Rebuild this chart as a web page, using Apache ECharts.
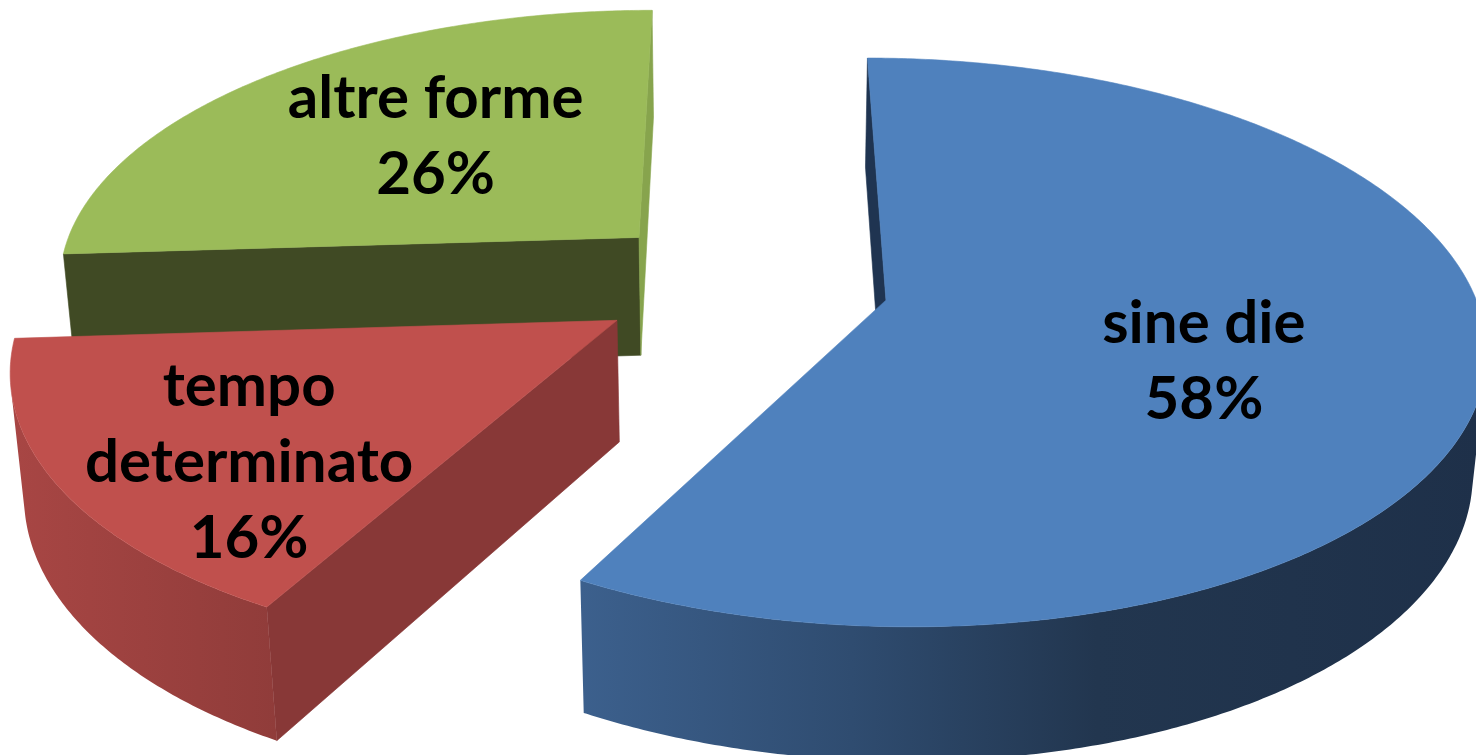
<!DOCTYPE html>
<html>
<head>
<meta charset="utf-8">
<script src="https://cdn.jsdelivr.net/npm/echarts@6/dist/echarts.min.js"></script>
<style>
html,body{margin:0;padding:0;background:#ffffff;}
#chart{width:1476px;height:755px;}
</style>
</head>
<body>
<div id="chart"></div>
<script>
// ---- data ----
const categories = ['sine die', 'tempo determinato', 'altre forme'];
const values = [58, 16, 26];

// ---- styles ----
const topColors = ['#4f81bd', '#c0504d', '#9bbb59'];
const radialStartColors = ['#1f3451', '#883837', '#404a24'];
const radialEndColors = ['#1f3451', '#883837', '#87a44d'];
const sideStops = [
  [[0, '#3c608d'], [0.3, '#2f4c70'], [0.57, '#22364f'], [1, '#1e3049']],
  [[0, '#a84644'], [1, '#903c3a']],
  [[0, '#7e9a48'], [1, '#6c843d']]
];
// label placement relative to each slice (angle shift in degrees from bisector, radius fraction)
const labelShift = [8.4, -7.4, 3.4];
const labelRadius = [0.557, 0.727, 0.565];

// ---- 3D view ----
const SIN_A = 0.4667;
const COS_A = Math.sqrt(1 - SIN_A * SIN_A);
const DIST = 6.0, FOCAL = 3510, THICK = 0.236, EXPLODE = 0.25;
const BASE_W = 1476, CX = 743, CY = 283;

const total = values.reduce((a, b) => a + b, 0);
const startAngles = [];
(function () { let acc = 0; values.forEach(v => { startAngles.push(acc / total * 360); acc += v; }); })();

function project(X, Y, Z, cx, cy, k) {
  const depth = DIST + Z * COS_A - Y * SIN_A;
  const v = Y * COS_A + Z * SIN_A;
  return [cx + k * FOCAL * X / depth, cy - k * FOCAL * v / depth];
}

function labelText(name, v) {
  const n = name.length > 12 ? name.replace(' ', '\n') : name;
  return n + '\n' + Math.round(v / total * 100) + '%';
}

function renderItem(params, api) {
  const i = params.dataIndex;
  const val = api.value(1);
  const k = api.getWidth() / BASE_W;
  const cx = CX * k, cy = CY * k;
  const rad = Math.PI / 180;
  const a1 = startAngles[i], a2 = a1 + val / total * 360;
  const mid = (a1 + a2) / 2;
  const ox = EXPLODE * Math.sin(mid * rad), oz = EXPLODE * Math.cos(mid * rad);
  const camZ = -DIST * COS_A;
  const P = (thDeg, Y, r) => {
    const t = thDeg * rad;
    return project(ox + r * Math.sin(t), Y, oz + r * Math.cos(t), cx, cy, k);
  };
  const zBase = Math.round((1 - oz) * 100);
  const children = [];

  // radial faces
  const faces = [[a1, a1 - 90, radialStartColors[i]], [a2, a2 + 90, radialEndColors[i]]];
  faces.forEach(f => {
    const n = f[1] * rad;
    const nx = Math.sin(n), nz = Math.cos(n);
    const vis = nx * (0 - ox) + nz * (camZ - oz);
    if (vis > 0) {
      children.push({
        type: 'polygon', z2: zBase,
        shape: { points: [P(f[0], 0, 0), P(f[0], 0, 1), P(f[0], -THICK, 1), P(f[0], -THICK, 0)] },
        style: { fill: f[2], stroke: f[2], lineWidth: 0.6 }
      });
    }
  });

  // outer curved side
  const step = 0.5;
  const samples = [];
  for (let th = a1; th < a2; th += step) samples.push(th);
  samples.push(a2);
  let seg = [];
  const segs = [];
  samples.forEach(th => {
    const t = th * rad;
    const s = Math.sin(t), c = Math.cos(t);
    const vis = s * (0 - ox - s) + c * (camZ - oz - c);
    if (vis > 0) seg.push(th); else { if (seg.length > 1) segs.push(seg); seg = []; }
  });
  if (seg.length > 1) segs.push(seg);
  segs.forEach(sg => {
    const pts = [];
    sg.forEach(th => pts.push(P(th, 0, 1)));
    for (let j = sg.length - 1; j >= 0; j--) pts.push(P(sg[j], -THICK, 1));
    children.push({
      type: 'polygon', z2: zBase,
      shape: { points: pts },
      style: {
        fill: new echarts.graphic.LinearGradient(0, 0, 1, 0,
          sideStops[i].map(s => ({ offset: s[0], color: s[1] })))
      }
    });
  });

  // top face
  const topPts = [P(0, 0, 0)];
  samples.forEach(th => topPts.push(P(th, 0, 1)));
  children.push({
    type: 'polygon', z2: zBase + 1,
    shape: { points: topPts },
    style: { fill: topColors[i], stroke: topColors[i], lineWidth: 0.6 }
  });

  // label
  const lp = P(mid + labelShift[i], 0, labelRadius[i]);
  children.push({
    type: 'text', z2: 1000,
    style: {
      text: labelText(categories[i], val),
      x: lp[0], y: lp[1],
      fill: '#000000',
      fontFamily: 'Lato', fontWeight: 'bold', fontSize: 60 * k,
      lineHeight: 76 * k,
      align: 'center', verticalAlign: 'middle',
      textAlign: 'center', textVerticalAlign: 'middle'
    }
  });

  return { type: 'group', children: children };
}

const chart = echarts.init(document.getElementById('chart'), null, { renderer: 'canvas' });
chart.setOption({
  animation: false,
  backgroundColor: '#ffffff',
  series: [{
    type: 'custom',
    coordinateSystem: 'none',
    renderItem: renderItem,
    silent: true,
    data: values.map((v, i) => ({ name: categories[i], value: [i, v] }))
  }]
});
</script>
</body>
</html>
